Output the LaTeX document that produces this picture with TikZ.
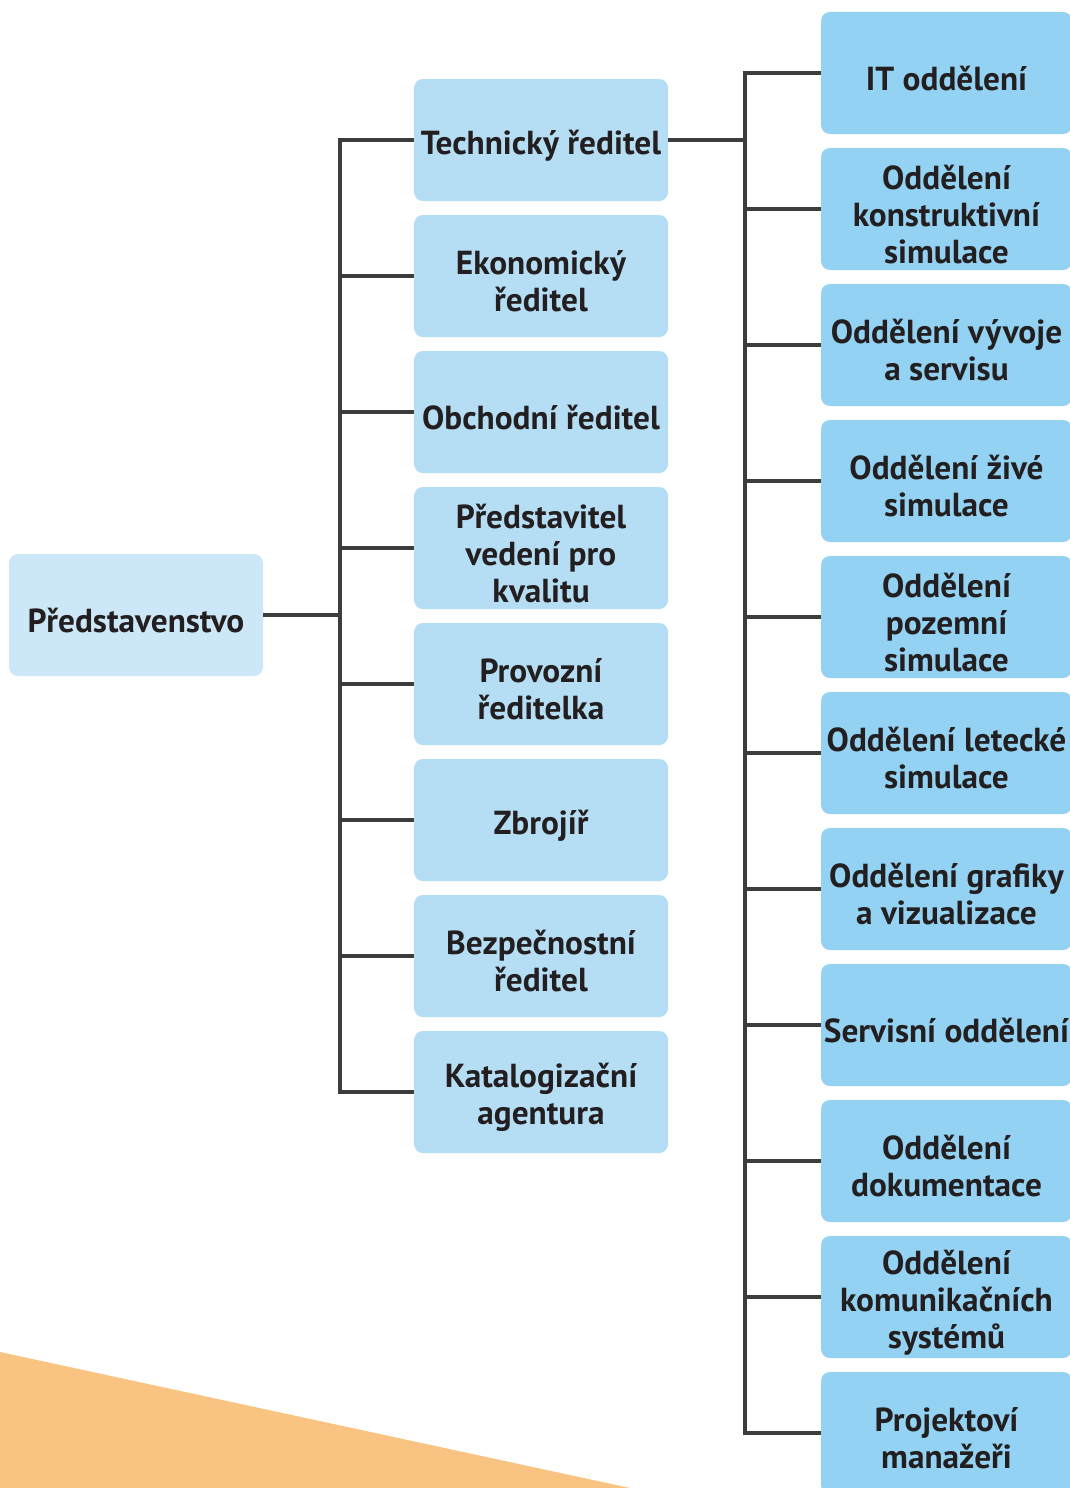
\documentclass[tikz,border=0pt]{standalone}
\usepackage{fontspec}
\setmainfont{PT Sans}
\definecolor{rootc}{HTML}{CCE8F8}
\definecolor{midc}{HTML}{B5DEF5}
\definecolor{rightc}{HTML}{93D2F2}
\definecolor{linec}{HTML}{3D3D3D}
\definecolor{txtc}{HTML}{231F20}
\definecolor{orangec}{HTML}{F9C381}
\newcommand\orgbox[4][-5.5pt]{%
  \node[#2] (#3) {};
  \node[lbl] at ([yshift=#1]#3.center) {#4};}
\begin{document}
\begin{tikzpicture}[x=1pt,y=-1pt,
  box/.style={rounded corners=9pt, inner sep=0pt, minimum height=122pt},
  lbl/.style={inner sep=0pt, align=center, text=txtc,
    font=\bfseries\fontsize{33.3}{37}\selectfont},
  rootbox/.style={box, fill=rootc, minimum width=254pt},
  midbox/.style={box, fill=midc, minimum width=254pt},
  rightbox/.style={box, fill=rightc, minimum width=251pt},
  conn/.style={draw=linec, line width=3.6pt, line join=miter}]
\useasboundingbox (0,0) rectangle (1070,1488);
\clip (0,0) rectangle (1070,1488);
\fill[white] (0,0) rectangle (1070,1488);
\fill[orangec] (0,1352) -- (630,1488) -- (0,1488) -- cycle;

\orgbox{rootbox,at={(136,615)}}{root}{Představenstvo}

\orgbox{midbox,at={(541,140)}}{m1}{Technický ředitel}
\orgbox{midbox,at={(541,276)}}{m2}{Ekonomický\\ředitel}
\orgbox{midbox,at={(541,412)}}{m3}{Obchodní ředitel}
\orgbox{midbox,at={(541,548)}}{m4}{Představitel\\vedení pro\\kvalitu}
\orgbox{midbox,at={(541,684)}}{m5}{Provozní\\ředitelka}
\orgbox{midbox,at={(541,820)}}{m6}{Zbrojíř}
\orgbox{midbox,at={(541,956)}}{m7}{Bezpečnostní\\ředitel}
\orgbox{midbox,at={(541,1092)}}{m8}{Katalogizační\\agentura}

\orgbox{rightbox,at={(946.5,73)}}{r1}{IT oddělení}
\orgbox{rightbox,at={(946.5,209)}}{r2}{Oddělení\\konstruktivní\\simulace}
\orgbox{rightbox,at={(946.5,345)}}{r3}{Oddělení vývoje\\a servisu}
\orgbox{rightbox,at={(946.5,481)}}{r4}{Oddělení živé\\simulace}
\orgbox{rightbox,at={(946.5,617)}}{r5}{Oddělení\\pozemní\\simulace}
\orgbox{rightbox,at={(946.5,753)}}{r6}{Oddělení letecké\\simulace}
\orgbox{rightbox,at={(946.5,889)}}{r7}{Oddělení grafiky\\a vizualizace}
\orgbox{rightbox,at={(946.5,1025)}}{r8}{Servisní oddělení}
\orgbox{rightbox,at={(946.5,1161)}}{r9}{Oddělení\\dokumentace}
\orgbox{rightbox,at={(946.5,1297)}}{r10}{Oddělení\\komunikačních\\systémů}
\orgbox{rightbox,at={(946.5,1433)}}{r11}{Projektoví\\manažeři}

\coordinate (ta) at (340,0);
\coordinate (tb) at (745,0);

\draw[conn] (root.east) -- (root.east -| ta);
\draw[conn] (m1.west) -- (m1.west -| ta) -- (m8.west -| ta) -- (m8.west);
\foreach \i in {2,...,7}{\draw[conn] (m\i.west) -- (m\i.west -| ta);}

\draw[conn] (m1.east) -- (m1.east -| tb);
\draw[conn] (r1.west) -- (r1.west -| tb) -- (r11.west -| tb) -- (r11.west);
\foreach \i in {2,...,10}{\draw[conn] (r\i.west) -- (r\i.west -| tb);}
\end{tikzpicture}
\end{document}
